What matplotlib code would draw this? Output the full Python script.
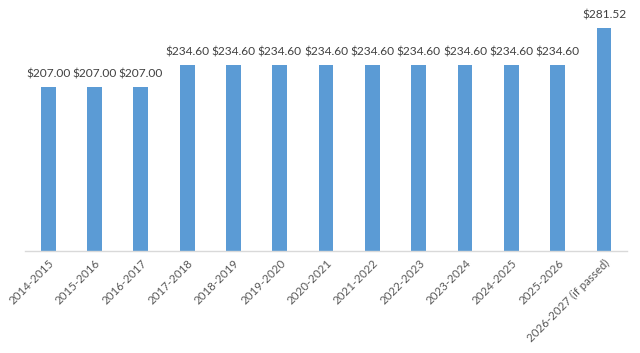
import matplotlib
matplotlib.use("Agg")
import matplotlib.pyplot as plt

categories = ["2014-2015", "2015-2016", "2016-2017", "2017-2018", "2018-2019", "2019-2020",
              "2020-2021", "2021-2022", "2022-2023", "2023-2024", "2024-2025", "2025-2026",
              "2026-2027 (if passed)"]
values = [207.00, 207.00, 207.00, 234.60, 234.60, 234.60, 234.60, 234.60, 234.60,
          234.60, 234.60, 234.60, 281.52]

plt.rcParams['font.family'] = ['Lato', 'DejaVu Sans']

fig = plt.figure(figsize=(6.4, 3.53), dpi=100)
ax = fig.add_axes([0.039, 0.289, 0.941, 0.677])
x = list(range(len(categories)))
ax.bar(x, values, width=0.32, color="#5B9BD5", zorder=2)
for xi, v in zip(x, values):
    ax.annotate(f"${v:,.2f}", (xi, v), xytext=(0, 5.5), textcoords="offset points",
                ha="center", va="bottom", fontsize=8.6, color="#404040")
ax.set_xlim(-0.5, 12.5)
ax.set_ylim(0, 302)
ax.set_yticks([])
for s in ["top", "right", "left"]:
    ax.spines[s].set_visible(False)
ax.spines["bottom"].set_color("#D9D9D9")
ax.spines["bottom"].set_linewidth(1)
ax.set_xticks(x)
ax.set_xticklabels(categories, rotation=45, ha="right", rotation_mode="anchor",
                   fontsize=8.3, color="#595959")
ax.tick_params(axis="x", length=0, pad=5)
fig.savefig("out.png", dpi=100)
